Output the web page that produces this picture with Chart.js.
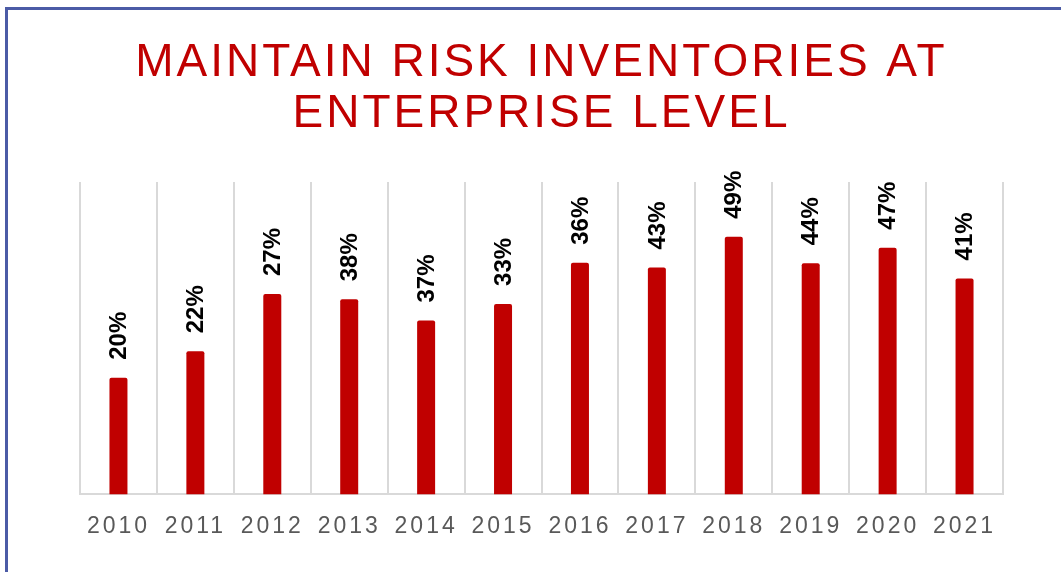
<!DOCTYPE html>
<html>
<head>
<meta charset="utf-8">
<script src="https://cdn.jsdelivr.net/npm/chart.js@4/dist/chart.umd.min.js"></script>
<style>
  html, body { margin: 0; padding: 0; background: #fff; }
  #wrap { position: relative; width: 1061px; height: 572px; overflow: hidden; }
  #frame {
    position: absolute; left: 5px; top: 7px; right: -10px; bottom: -10px;
    border-left: 3px solid #4b5ba6; border-top: 3px solid #4b5ba6;
  }
  canvas { position: absolute; left: 0; top: 0; }
</style>
</head>
<body>
<div id="wrap">
  <div id="frame"></div>
  <canvas id="chart" width="1061" height="572"></canvas>
</div>
<script>
const years = ["2010", "2011", "2012", "2013", "2014", "2015", "2016", "2017", "2018", "2019", "2020", "2021"];
// bar heights as drawn in the picture
const barValues = [22.4, 27.5, 38.5, 37.5, 33.4, 36.6, 44.5, 43.6, 49.5, 44.4, 47.4, 41.5];
// labels printed over each bar
const barLabels = ["20%", "22%", "27%", "38%", "37%", "33%", "36%", "43%", "49%", "44%", "47%", "41%"];
const titleLines = ["MAINTAIN RISK INVENTORIES AT", "ENTERPRISE LEVEL"];

const RED = "#c00000";

// spaced-out lettering for title and year ticks
const letterSpacing = {
  id: "letterSpacing",
  beforeDraw(chart) {
    chart.ctx.letterSpacing = "3px";
  },
};

const barLabelPlugin = {
  id: "barLabels",
  afterDatasetsDraw(chart) {
    const ctx = chart.ctx;
    const meta = chart.getDatasetMeta(0);
    ctx.save();
    ctx.letterSpacing = "0px";
    ctx.font = "bold 24px 'Liberation Sans', Arial, sans-serif";
    ctx.fillStyle = "#000";
    ctx.textAlign = "left";
    ctx.textBaseline = "middle";
    meta.data.forEach((bar, i) => {
      ctx.save();
      ctx.translate(bar.x + 1, bar.y - 18);
      ctx.rotate(-Math.PI / 2);
      ctx.fillText(barLabels[i], 0, 0);
      ctx.restore();
    });
    ctx.restore();
  },
};

new Chart(document.getElementById("chart"), {
  type: "bar",
  data: {
    labels: years,
    datasets: [
      {
        data: barValues,
        backgroundColor: RED,
        borderRadius: { topLeft: 2, topRight: 2 },
        borderSkipped: "bottom",
        barPercentage: 0.234,
        categoryPercentage: 1,
      },
    ],
  },
  options: {
    responsive: false,
    animation: false,
    layout: {
      padding: { left: 80, right: 58, top: 0, bottom: 14 },
    },
    plugins: {
      legend: { display: false },
      tooltip: { enabled: false },
      title: {
        display: true,
        text: titleLines,
        color: RED,
        font: { family: "'Liberation Sans', Arial, sans-serif", size: 46, weight: "normal", lineHeight: 1.11 },
        padding: { top: 38, bottom: 42 },
      },
    },
    scales: {
      x: {
        grid: {
          display: true,
          offset: true,
          color: "#d9d9d9",
          lineWidth: 2,
          drawTicks: false,
        },
        border: { display: true, color: "#d9d9d9", width: 2 },
        ticks: {
          color: "#595959",
          padding: 18,
          font: { family: "'Liberation Sans', Arial, sans-serif", size: 23 },
        },
      },
      y: {
        display: false,
        min: 0,
        max: 60,
      },
    },
  },
  plugins: [letterSpacing, barLabelPlugin],
});
</script>
</body>
</html>
